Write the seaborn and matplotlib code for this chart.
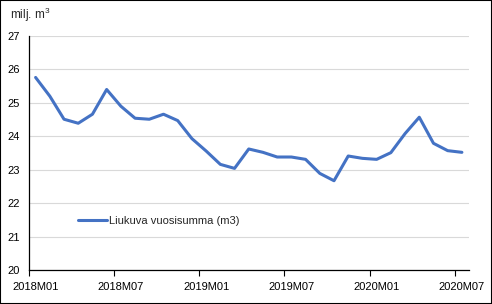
import numpy as np
import pandas as pd
import matplotlib
matplotlib.use("Agg")
import matplotlib.pyplot as plt
import matplotlib.patches as mpatches
import seaborn as sns

months = [f"{y}M{m:02d}" for y in (2018, 2019, 2020) for m in range(1, 13)][:31]
values = [25.76, 25.20, 24.51, 24.39, 24.66, 25.40, 24.90, 24.54, 24.51, 24.66,
          24.47, 23.93, 23.56, 23.16, 23.04, 23.62, 23.52, 23.38, 23.38, 23.31,
          22.89, 22.67, 23.41, 23.34, 23.31, 23.51, 24.08, 24.57, 23.79, 23.57, 23.52]
tick_labels = ["2018M01", "2018M07", "2019M01", "2019M07", "2020M01", "2020M07"]
series_name = "Liukuva vuosisumma (m3)"
y_ticks = [20, 21, 22, 23, 24, 25, 26, 27]

sns.set_theme(style="white")
plt.rcParams["font.family"] = ["Liberation Sans", "DejaVu Sans"]
plt.rcParams["mathtext.default"] = "regular"

df = pd.DataFrame({"idx": np.arange(len(values)), "value": values, "month": months})

fig = plt.figure(figsize=(4.92, 3.04), dpi=100)
ax = fig.add_axes([28.5 / 492, 1 - 270 / 304, (469 - 28.5) / 492, (270 - 36) / 304])

sns.lineplot(data=df, x="idx", y="value", ax=ax, color="#4472C4", linewidth=2.2,
             label=series_name)

ax.set_xlim(-0.5, len(values) - 0.5)
ax.set_ylim(20, 27)
ax.set_yticks(y_ticks)
ax.set_yticklabels([str(v) for v in y_ticks], fontsize=8, color="#000000")
pos = [months.index(t) for t in tick_labels]
ax.set_xticks(pos)
ax.set_xticklabels(tick_labels, fontsize=8, color="#000000")
ax.set_xticks([p - 0.5 for p in pos], minor=True)
ax.set_xlabel("")
ax.set_ylabel("")

ax.grid(axis="y", color="#d9d9d9", linewidth=0.8)
ax.grid(axis="x", visible=False)
ax.set_axisbelow(True)
for s in ["top", "right"]:
    ax.spines[s].set_visible(False)
for s in ["left", "bottom"]:
    ax.spines[s].set_color("black")
    ax.spines[s].set_linewidth(0.9)
ax.tick_params(axis="x", which="major", length=0, pad=9, bottom=True)
ax.tick_params(axis="x", which="minor", direction="out", length=4, width=0.8,
               color="black", bottom=True)
ax.tick_params(axis="y", length=0, pad=6, left=False)

leg = ax.legend(loc="center left", bbox_to_anchor=(0.09, 0.21), frameon=False,
                fontsize=8, handlelength=2.6, handletextpad=0.2)

fig.text(10 / 492, 1 - 15 / 304, "milj. m$^3$", fontsize=8.5, va="center", ha="left")

fig.patches.append(mpatches.Rectangle((0, 0), 1, 1, transform=fig.transFigure,
                                      fill=False, edgecolor="black", linewidth=1.5))

fig.savefig("out.png", dpi=100)
